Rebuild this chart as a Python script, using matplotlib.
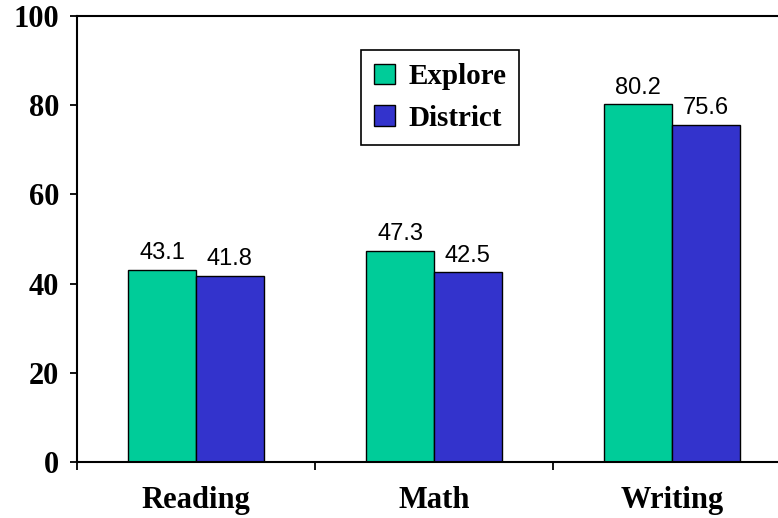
import matplotlib
matplotlib.use("Agg")
import matplotlib.pyplot as plt
import numpy as np
from matplotlib.patches import Patch

categories = ["Reading", "Math", "Writing"]
explore = [43.1, 47.3, 80.2]
district = [41.8, 42.5, 75.6]
series_names = ["Explore", "District"]
yticks = [0, 20, 40, 60, 80, 100]

green = "#00CC99"
blue = "#3333CC"

fig = plt.figure(figsize=(7.78, 5.18), dpi=100)
W, H = 778, 518
ax = fig.add_axes([77 / W, 56 / H, 714 / W, 446 / H])

x = np.arange(len(categories))
w = 0.285
b1 = ax.bar(x - w / 2, explore, w, color=green, edgecolor="black", linewidth=1.0)
b2 = ax.bar(x + w / 2, district, w, color=blue, edgecolor="black", linewidth=1.0)

for bars, vals in ((b1, explore), (b2, district)):
    for r, v in zip(bars, vals):
        ax.annotate(f"{v:.1f}", (r.get_x() + r.get_width() / 2, v),
                    xytext=(0, 4), textcoords="offset points",
                    ha="center", va="bottom", fontsize=17,
                    family="Liberation Sans")

ax.set_xlim(-0.5, 2.5)
ax.set_ylim(0, 100)
ax.set_yticks(yticks)
ax.set_yticklabels([str(t) for t in yticks], family="Liberation Serif",
                   fontweight="bold", fontsize=22)
ax.tick_params(axis="y", direction="out", length=5, width=1.3, pad=8)

ax.set_xticks([-0.5, 0.5, 1.5, 2.5])
ax.set_xticklabels([])
ax.tick_params(axis="x", which="major", direction="out", length=6, width=1.3)
ax.set_xticks(x, minor=True)
ax.set_xticklabels(categories, minor=True, family="Liberation Serif",
                   fontweight="bold", fontsize=22)
ax.tick_params(axis="x", which="minor", length=0, pad=17)

for s in ("left", "bottom", "top"):
    ax.spines[s].set_linewidth(1.5)
ax.spines["right"].set_visible(False)

handles = [Patch(facecolor=green, edgecolor="black", linewidth=1.0),
           Patch(facecolor=blue, edgecolor="black", linewidth=1.0)]
leg = fig.legend(handles, series_names, loc="upper left",
                 bbox_to_anchor=(361 / W, 1 - 50 / H),
                 prop={"family": "Liberation Serif", "weight": "bold", "size": 21},
                 frameon=True, fancybox=False, edgecolor="black", framealpha=1,
                 handlelength=0.72, handleheight=0.72, handletextpad=0.45,
                 labelspacing=0.5, borderpad=0.45, borderaxespad=0)
leg.get_frame().set_linewidth(1.2)

fig.savefig("out.png", dpi=100)
